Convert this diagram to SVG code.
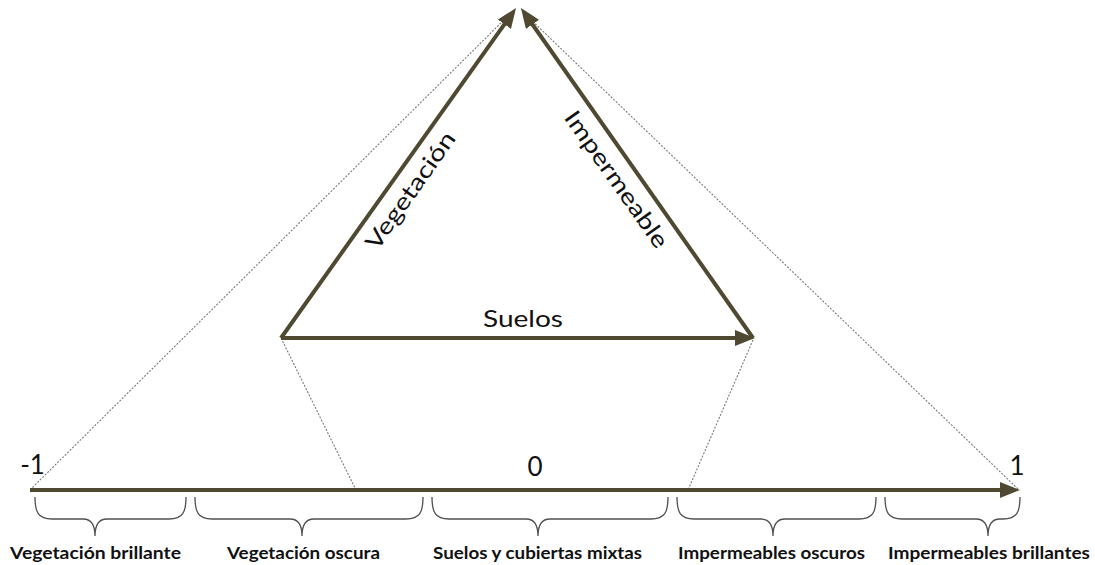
<svg xmlns="http://www.w3.org/2000/svg" width="1095" height="565" viewBox="0 0 1095 565">
  <style>
    .thick { stroke: #4f4931; stroke-width: 4; fill: none; }
    .dot { stroke: #7a7a7a; stroke-width: 1.1; stroke-dasharray: 2 1.5; fill: none; }
    .brace { stroke: #505050; stroke-width: 1.3; fill: none; }
    .num { font-family: Lato, "Liberation Sans", sans-serif; font-size: 26px; fill: #111; }
    .lbl { font-family: Lato, "Liberation Sans", sans-serif; font-size: 23px; fill: #111; }
    .cat { font-family: Lato, "Liberation Sans", sans-serif; font-size: 17px; font-weight: bold; fill: #111; }
  </style>
  <defs>
    <marker id="arr" markerUnits="userSpaceOnUse" viewBox="0 0 20 16" markerWidth="20" markerHeight="16" refX="6" refY="8" orient="auto">
      <path d="M0,0 L20,8 L0,16 z" fill="#4f4931"/>
    </marker>
  </defs>
  <rect width="1095" height="565" fill="#ffffff"/>

  <g id="connectors">
    <line class="dot" x1="30" y1="490" x2="512" y2="12"/>
    <line class="dot" x1="1018" y1="489" x2="523" y2="12"/>
    <line class="dot" x1="281" y1="338" x2="356" y2="490"/>
    <line class="dot" x1="753" y1="340" x2="688" y2="490"/>
    <line id="edge-vegetacion" class="thick" x1="281" y1="338" x2="507.9" y2="19.4" marker-end="url(#arr)"/>
    <line id="edge-impermeable" class="thick" x1="753" y1="338" x2="529" y2="19.5" marker-end="url(#arr)"/>
    <line id="edge-suelos" class="thick" x1="281" y1="338" x2="741" y2="338" marker-end="url(#arr)"/>
    <line id="axis" class="thick" x1="30" y1="490" x2="1006" y2="490" marker-end="url(#arr)"/>
  </g>

  <g id="triangle-labels">
    <text class="lbl" text-anchor="middle" transform="translate(417,195) rotate(-54.84)" textLength="138" lengthAdjust="spacingAndGlyphs">Vegetación</text>
    <text class="lbl" text-anchor="middle" transform="translate(610,184) rotate(54.74)" textLength="162" lengthAdjust="spacingAndGlyphs">Impermeable</text>
    <text class="lbl" x="523" y="327" text-anchor="middle" textLength="80" lengthAdjust="spacingAndGlyphs">Suelos</text>
  </g>

  <g id="axis-numbers">
    <text class="num" x="32.5" y="474" text-anchor="middle">-1</text>
    <text class="num" x="535" y="476" text-anchor="middle">0</text>
    <text class="num" x="1017" y="475" text-anchor="middle">1</text>
  </g>

  <g id="cat-vegetacion-brillante">
    <path class="brace" d="M35,497 C35,512 38,519 52,519 L83,519 C91,519 95,525 95,536 C95,525 99,519 107,519 L169,519 C183,519 186,512 186,497"/>
    <text class="cat" x="95.5" y="559" text-anchor="middle" textLength="171" lengthAdjust="spacingAndGlyphs">Vegetación brillante</text>
  </g>
  <g id="cat-vegetacion-oscura">
    <path class="brace" d="M195,497 C195,512 198,519 212,519 L290,519 C298,519 302,525 302,536 C302,525 306,519 314,519 L406,519 C420,519 423,512 423,497"/>
    <text class="cat" x="303.5" y="559" text-anchor="middle" textLength="153" lengthAdjust="spacingAndGlyphs">Vegetación oscura</text>
  </g>
  <g id="cat-suelos-mixtas">
    <path class="brace" d="M432,497 C432,512 435,519 449,519 L526,519 C534,519 538,525 538,536 C538,525 542,519 550,519 L651,519 C665,519 668,512 668,497"/>
    <text class="cat" x="537.5" y="559" text-anchor="middle" textLength="209" lengthAdjust="spacingAndGlyphs">Suelos y cubiertas mixtas</text>
  </g>
  <g id="cat-impermeables-oscuros">
    <path class="brace" d="M677,497 C677,512 680,519 694,519 L761,519 C769,519 773,525 773,536 C773,525 777,519 785,519 L859,519 C873,519 876,512 876,497"/>
    <text class="cat" x="771.5" y="559" text-anchor="middle" textLength="187" lengthAdjust="spacingAndGlyphs">Impermeables oscuros</text>
  </g>
  <g id="cat-impermeables-brillantes">
    <path class="brace" d="M885,497 C885,512 888,519 902,519 L976,519 C984,519 988,525 988,536 C988,525 992,519 1000,519 L1003,519 C1017,519 1020,512 1020,497"/>
    <text class="cat" x="989" y="559" text-anchor="middle" textLength="202" lengthAdjust="spacingAndGlyphs">Impermeables brillantes</text>
  </g>
</svg>
